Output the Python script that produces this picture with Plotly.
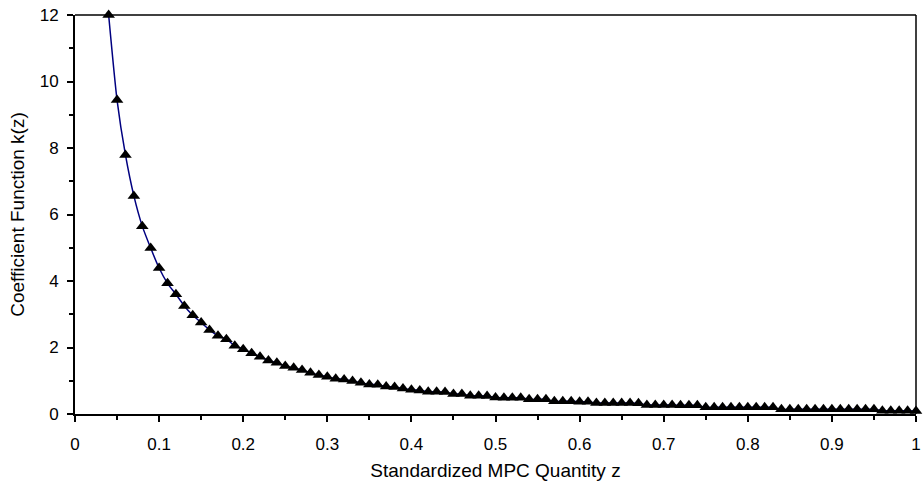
import plotly.graph_objects as go

z_values = [0.04, 0.05, 0.06, 0.07, 0.08, 0.09, 0.10, 0.11, 0.12, 0.13, 0.14, 0.15,
            0.16, 0.17, 0.18, 0.19, 0.20, 0.21, 0.22, 0.23, 0.24, 0.25, 0.26, 0.27,
            0.28, 0.29, 0.30, 0.31, 0.32, 0.33, 0.34, 0.35, 0.36, 0.37, 0.38, 0.39,
            0.40, 0.41, 0.42, 0.43, 0.44, 0.45, 0.46, 0.47, 0.48, 0.49, 0.50, 0.51,
            0.52, 0.53, 0.54, 0.55, 0.56, 0.57, 0.58, 0.59, 0.60, 0.61, 0.62, 0.63,
            0.64, 0.65, 0.66, 0.67, 0.68, 0.69, 0.70, 0.71, 0.72, 0.73, 0.74, 0.75,
            0.76, 0.77, 0.78, 0.79, 0.80, 0.81, 0.82, 0.83, 0.84, 0.85, 0.86, 0.87,
            0.88, 0.89, 0.90, 0.91, 0.92, 0.93, 0.94, 0.95, 0.96, 0.97, 0.98, 0.99, 1.00]

k_values = [12.0, 9.44, 7.79, 6.56, 5.65, 4.99, 4.39, 3.93, 3.60, 3.25, 2.97, 2.75,
            2.53, 2.35, 2.25, 2.05, 1.95, 1.83, 1.72, 1.61, 1.54, 1.44, 1.39, 1.32,
            1.24, 1.17, 1.12, 1.06, 1.04, 0.99, 0.94, 0.89, 0.88, 0.83, 0.81, 0.77,
            0.73, 0.71, 0.67, 0.67, 0.66, 0.60, 0.60, 0.55, 0.55, 0.54, 0.50, 0.49,
            0.49, 0.49, 0.44, 0.44, 0.44, 0.38, 0.38, 0.38, 0.37, 0.37, 0.33, 0.33,
            0.33, 0.33, 0.33, 0.32, 0.27, 0.27, 0.27, 0.27, 0.26, 0.26, 0.26, 0.20,
            0.20, 0.20, 0.20, 0.20, 0.20, 0.20, 0.20, 0.20, 0.14, 0.14, 0.14, 0.14,
            0.14, 0.14, 0.14, 0.14, 0.14, 0.14, 0.14, 0.14, 0.10, 0.10, 0.10, 0.10, 0.09]

x_ticks = [0, 0.1, 0.2, 0.3, 0.4, 0.5, 0.6, 0.7, 0.8, 0.9, 1]
x_tick_labels = ["0", "0.1", "0.2", "0.3", "0.4", "0.5", "0.6", "0.7", "0.8", "0.9", "1"]
y_ticks = [0, 2, 4, 6, 8, 10, 12]
y_tick_labels = ["0", "2", "4", "6", "8", "10", "12"]

FONT = "Liberation Sans, Arial, sans-serif"

fig = go.Figure()
fig.add_trace(go.Scatter(
    x=z_values, y=k_values, mode="lines+markers",
    line=dict(color="#000080", width=1.5, shape="spline", smoothing=0.6),
    marker=dict(symbol="triangle-up", size=11, color="black"),
    cliponaxis=False, showlegend=False,
))

fig.update_layout(
    width=923, height=491,
    margin=dict(l=75, r=2, t=15, b=77),
    paper_bgcolor="white", plot_bgcolor="white",
    font=dict(family=FONT, size=17, color="black"),
    xaxis=dict(
        range=[0, 1], tickvals=x_ticks, ticktext=x_tick_labels,
        showgrid=False, zeroline=False,
        showline=True, linecolor="black", linewidth=2,
        ticks="outside", ticklen=6, tickwidth=1.5, tickcolor="black",
        minor=dict(ticks="outside", dtick=0.05, ticklen=4, tickwidth=1.5, tickcolor="black"),
        ticklabelstandoff=8, ticklabeloverflow="allow",
        title=dict(text="Standardized MPC Quantity z", font=dict(size=19), standoff=10),
    ),
    yaxis=dict(
        range=[0, 12], tickvals=y_ticks, ticktext=y_tick_labels,
        showgrid=False, zeroline=False,
        showline=True, linecolor="black", linewidth=2,
        ticks="outside", ticklen=6, tickwidth=1.5, tickcolor="black",
        minor=dict(ticks="outside", dtick=1, ticklen=4, tickwidth=1.5, tickcolor="black"),
        ticklabelstandoff=5, ticklabeloverflow="allow",
        title=dict(text="Coefficient Function k(z)", font=dict(size=19), standoff=10),
    ),
    shapes=[
        dict(type="line", xref="paper", yref="paper", x0=0, x1=1, y0=1, y1=1,
             line=dict(color="black", width=1.5)),
        dict(type="line", xref="paper", yref="paper", x0=1, x1=1, y0=0, y1=1,
             line=dict(color="black", width=1.5)),
    ],
)

fig.write_html("out.html")
